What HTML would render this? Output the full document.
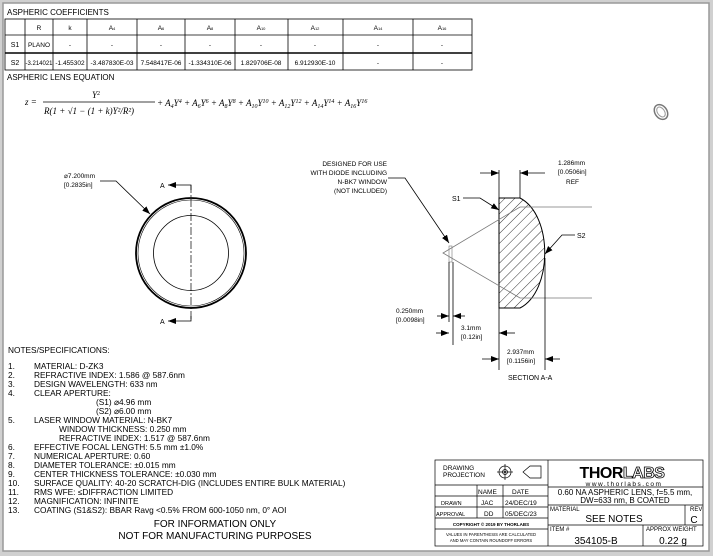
<!DOCTYPE html>
<html><head><meta charset="utf-8"><style>
html,body{margin:0;padding:0;background:#c8c8c8;}
svg{display:block;font-family:"Liberation Sans",sans-serif;}
</style></head><body>
<svg width="713" height="556" viewBox="0 0 713 556" xmlns="http://www.w3.org/2000/svg">
<defs>
<marker id="ar" markerWidth="8" markerHeight="6" refX="8" refY="3" orient="auto" markerUnits="userSpaceOnUse"><path d="M0,0 L8,3 L0,6z" fill="#000"/></marker>
<pattern id="hatch" width="7" height="7" patternUnits="userSpaceOnUse" patternTransform="rotate(45)"><line x1="0" y1="0" x2="0" y2="7" stroke="#000" stroke-width="0.8"/></pattern>
</defs>
<rect x="0" y="0" width="713" height="556" fill="#d0d0d0"/>
<rect x="3" y="3" width="706" height="548" fill="#fff" stroke="#999" stroke-width="1.5"/>

<!-- table -->
<text x="7" y="15" font-size="8">ASPHERIC COEFFICIENTS</text>
<g stroke="#000" stroke-width="0.8" fill="none">
<rect x="5" y="19" width="467" height="51"/>
<line x1="5" y1="35" x2="472" y2="35"/>
<line x1="5" y1="53" x2="472" y2="53" stroke-width="1.6"/>
<line x1="25" y1="19" x2="25" y2="70"/><line x1="53" y1="19" x2="53" y2="70"/>
<line x1="87" y1="19" x2="87" y2="70"/><line x1="137" y1="19" x2="137" y2="70"/>
<line x1="185" y1="19" x2="185" y2="70"/><line x1="235" y1="19" x2="235" y2="70"/>
<line x1="288" y1="19" x2="288" y2="70"/><line x1="343" y1="19" x2="343" y2="70"/>
<line x1="413" y1="19" x2="413" y2="70"/>
</g>
<g font-size="6.5" text-anchor="middle">
<text x="39" y="30">R</text><text x="70" y="30">k</text>
<text x="112" y="30">A<tspan font-size="4">4</tspan></text><text x="161" y="30">A<tspan font-size="4">6</tspan></text>
<text x="210" y="30">A<tspan font-size="4">8</tspan></text><text x="261" y="30">A<tspan font-size="4">10</tspan></text>
<text x="315" y="30">A<tspan font-size="4">12</tspan></text><text x="378" y="30">A<tspan font-size="4">14</tspan></text>
<text x="442" y="30">A<tspan font-size="4">16</tspan></text>
<text x="15" y="47" font-size="7">S1</text><text x="39" y="47">PLANO</text>
<text x="70" y="47">-</text><text x="112" y="47">-</text><text x="161" y="47">-</text><text x="210" y="47">-</text><text x="261" y="47">-</text><text x="315" y="47">-</text><text x="378" y="47">-</text><text x="442" y="47">-</text>
<text x="15" y="65" font-size="7">S2</text><text x="39" y="65" font-size="6">-3.214021</text><text x="70" y="65">-1.455302</text>
<text x="112" y="65">-3.487830E-03</text><text x="161" y="65">7.548417E-06</text><text x="210" y="65">-1.334310E-06</text>
<text x="261" y="65">1.829706E-08</text><text x="315" y="65">6.912930E-10</text><text x="378" y="65">-</text><text x="442" y="65">-</text>
</g>
<text x="7" y="80" font-size="8">ASPHERIC LENS EQUATION</text>
<g font-family="Liberation Serif,serif" font-style="italic" font-size="9">
<text x="25" y="105">z =</text>
<text x="92" y="98">Y<tspan font-size="6" dy="-3" font-style="normal">2</tspan></text>
<line x1="43" y1="102" x2="155" y2="102" stroke="#000" stroke-width="0.7"/>
<text x="44" y="114">R(1 + √1 − (1 + k)Y²/R²)</text>
<text x="157" y="106">+ A<tspan font-size="6" dy="2">4</tspan><tspan dy="-2">Y</tspan><tspan font-size="6" dy="-3">4</tspan><tspan dy="3"> + A</tspan><tspan font-size="6" dy="2">6</tspan><tspan dy="-2">Y</tspan><tspan font-size="6" dy="-3">6</tspan><tspan dy="3"> + A</tspan><tspan font-size="6" dy="2">8</tspan><tspan dy="-2">Y</tspan><tspan font-size="6" dy="-3">8</tspan><tspan dy="3"> + A</tspan><tspan font-size="6" dy="2">10</tspan><tspan dy="-2">Y</tspan><tspan font-size="6" dy="-3">10</tspan><tspan dy="3"> + A</tspan><tspan font-size="6" dy="2">12</tspan><tspan dy="-2">Y</tspan><tspan font-size="6" dy="-3">12</tspan><tspan dy="3"> + A</tspan><tspan font-size="6" dy="2">14</tspan><tspan dy="-2">Y</tspan><tspan font-size="6" dy="-3">14</tspan><tspan dy="3"> + A</tspan><tspan font-size="6" dy="2">16</tspan><tspan dy="-2">Y</tspan><tspan font-size="6" dy="-3">16</tspan></text>
</g>
<!-- iso icon -->
<ellipse cx="661" cy="112" rx="6" ry="8" transform="rotate(-35 661 112)" fill="none" stroke="#777" stroke-width="1.5"/>
<ellipse cx="661" cy="112" rx="3.5" ry="5.5" transform="rotate(-35 661 112)" fill="none" stroke="#999" stroke-width="1"/>

<!-- front view -->
<g fill="none" stroke="#000">
<circle cx="191" cy="253" r="55" stroke-width="1.8"/>
<circle cx="191" cy="253" r="53" stroke-width="0.6"/>
<circle cx="191" cy="253" r="37.5" stroke-width="0.8"/>
<line x1="191" y1="185" x2="191" y2="321" stroke-width="0.7" stroke-dasharray="8,2,2,2"/>
<polyline points="191,190 191,185 168,185" stroke-width="0.8" marker-end="url(#ar)"/>
<polyline points="191,316 191,321 168,321" stroke-width="0.8" marker-end="url(#ar)"/>
<polyline points="100,181 116,181 150,214" stroke-width="0.8" marker-end="url(#ar)"/>
</g>
<text x="160" y="188" font-size="7">A</text><text x="160" y="324" font-size="7">A</text>
<text x="64" y="178" font-size="6.5">⌀7.200mm</text>
<text x="64" y="187" font-size="6.5">[0.2835in]</text>

<!-- section -->
<g fill="none" stroke="#000" stroke-width="0.8">
<path d="M499,198 L520,198 C553,215 553,291 520,308 L499,308 Z" fill="url(#hatch)" stroke-width="1"/>
<polyline points="592,207 520,207 443,253 520,298 592,298" stroke="#777" stroke-width="0.8"/>
<rect x="449" y="246" width="3" height="16" stroke="#777" stroke-width="0.6"/>
<line x1="499" y1="170" x2="499" y2="198"/><line x1="520" y1="170" x2="520" y2="198"/>
<line x1="480" y1="173" x2="499" y2="173" marker-end="url(#ar)"/>
<line x1="545" y1="173" x2="520" y2="173" marker-end="url(#ar)"/>
<line x1="499" y1="308" x2="499" y2="370"/><line x1="545" y1="258" x2="545" y2="370"/>
<line x1="449" y1="262" x2="449" y2="322"/><line x1="453" y1="262" x2="453" y2="345"/>
<line x1="437" y1="316" x2="449" y2="316" marker-end="url(#ar)"/>
<line x1="465" y1="316" x2="453" y2="316" marker-end="url(#ar)"/>
<line x1="436" y1="333" x2="449" y2="333" marker-end="url(#ar)"/>
<line x1="515" y1="333" x2="499" y2="333" marker-end="url(#ar)"/>
<line x1="482" y1="359" x2="499" y2="359" marker-end="url(#ar)"/>
<line x1="560" y1="359" x2="545" y2="359" marker-end="url(#ar)"/>
<polyline points="388,178 405,178 449,243" marker-end="url(#ar)"/>
<polyline points="463,198 480,198 499,210" marker-end="url(#ar)"/>
<polyline points="575,235 562,235 545,254" marker-end="url(#ar)"/>
</g>
<g font-size="6.5" text-anchor="end">
<text x="387" y="166">DESIGNED FOR USE</text>
<text x="387" y="175">WITH DIODE INCLUDING</text>
<text x="387" y="184">N-BK7 WINDOW</text>
<text x="387" y="193">(NOT INCLUDED)</text>
</g>
<text x="452" y="201" font-size="7">S1</text>
<text x="577" y="238" font-size="7">S2</text>
<g font-size="6.5">
<text x="558" y="165">1.286mm</text>
<text x="558" y="174">[0.0506in]</text>
<text x="566" y="184">REF</text>
<text x="396" y="313">0.250mm</text>
<text x="396" y="322">[0.0098in]</text>
<text x="461" y="330">3.1mm</text>
<text x="461" y="339">[0.12in]</text>
<text x="507" y="354">2.937mm</text>
<text x="507" y="363">[0.1156in]</text>
<text x="508" y="380" font-size="7">SECTION A-A</text>
</g>

<!-- notes -->
<g font-size="8.3">
<text x="8" y="353">NOTES/SPECIFICATIONS:</text>
<text x="8" y="369">1.</text><text x="34" y="369">MATERIAL: D-ZK3</text>
<text x="8" y="378">2.</text><text x="34" y="378">REFRACTIVE INDEX: 1.586 @ 587.6nm</text>
<text x="8" y="387">3.</text><text x="34" y="387">DESIGN WAVELENGTH: 633 nm</text>
<text x="8" y="396">4.</text><text x="34" y="396">CLEAR APERTURE:</text>
<text x="96" y="405">(S1) ⌀4.96 mm</text>
<text x="96" y="414">(S2) ⌀6.00 mm</text>
<text x="8" y="423">5.</text><text x="34" y="423">LASER WINDOW MATERIAL: N-BK7</text>
<text x="59" y="432">WINDOW THICKNESS: 0.250 mm</text>
<text x="59" y="441">REFRACTIVE INDEX: 1.517 @ 587.6nm</text>
<text x="8" y="450">6.</text><text x="34" y="450">EFFECTIVE FOCAL LENGTH: 5.5 mm ±1.0%</text>
<text x="8" y="459">7.</text><text x="34" y="459">NUMERICAL APERTURE: 0.60</text>
<text x="8" y="468">8.</text><text x="34" y="468">DIAMETER TOLERANCE: ±0.015 mm</text>
<text x="8" y="477">9.</text><text x="34" y="477">CENTER THICKNESS TOLERANCE: ±0.030 mm</text>
<text x="8" y="486">10.</text><text x="34" y="486">SURFACE QUALITY: 40-20 SCRATCH-DIG (INCLUDES ENTIRE BULK MATERIAL)</text>
<text x="8" y="495">11.</text><text x="34" y="495">RMS WFE: ≤DIFFRACTION LIMITED</text>
<text x="8" y="504">12.</text><text x="34" y="504">MAGNIFICATION: INFINITE</text>
<text x="8" y="513">13.</text><text x="34" y="513">COATING (S1&amp;S2): BBAR Ravg &lt;0.5% FROM 600-1050 nm, 0° AOI</text>
</g>
<g font-size="10" text-anchor="middle">
<text x="215" y="527">FOR INFORMATION ONLY</text>
<text x="215" y="539">NOT FOR MANUFACTURING PURPOSES</text>
</g>

<!-- title block -->
<g fill="none" stroke="#000" stroke-width="0.7">
<rect x="435" y="460" width="268" height="86"/>
<line x1="548" y1="460" x2="548" y2="546"/>
<line x1="435" y1="485" x2="548" y2="485"/>
<line x1="435" y1="496" x2="548" y2="496"/>
<line x1="435" y1="507" x2="548" y2="507"/>
<line x1="435" y1="518" x2="548" y2="518"/>
<line x1="435" y1="529" x2="548" y2="529"/>
<line x1="477" y1="485" x2="477" y2="518"/>
<line x1="503" y1="485" x2="503" y2="518"/>
<line x1="548" y1="487" x2="703" y2="487"/>
<line x1="548" y1="505" x2="703" y2="505"/>
<line x1="548" y1="525" x2="703" y2="525"/>
<line x1="685" y1="505" x2="685" y2="525"/>
<line x1="643" y1="525" x2="643" y2="546"/>
<circle cx="505" cy="472" r="6"/><circle cx="505" cy="472" r="2.5"/>
<line x1="497" y1="472" x2="513" y2="472"/><line x1="505" y1="464" x2="505" y2="480"/>
<path d="M523,472 L530,466 L541,466 L541,478 L530,478 Z"/>
</g>
<circle cx="505" cy="472" r="1" fill="#000"/>
<g font-size="6.5">
<text x="443" y="470">DRAWING</text><text x="443" y="477">PROJECTION</text>
<text x="478" y="494">NAME</text><text x="512" y="494">DATE</text>
<text x="441" y="505" font-size="5.5">DRAWN</text><text x="481" y="505">JAC</text><text x="505" y="505">24/DEC/19</text>
<text x="436" y="516" font-size="5.5">APPROVAL</text><text x="484" y="516">DD</text><text x="505" y="516">05/DEC/23</text>
<text x="491" y="526" font-size="4.5" text-anchor="middle" font-weight="bold">COPYRIGHT © 2019 BY THORLABS</text>
<text x="491" y="536" font-size="4.2" text-anchor="middle">VALUES IN PARENTHESIS ARE CALCULATED</text>
<text x="491" y="542" font-size="4.2" text-anchor="middle">AND MAY CONTAIN ROUNDOFF ERRORS</text>
<text x="550" y="511" font-size="6">MATERIAL</text>
<text x="690" y="511" font-size="6">REV</text>
<text x="550" y="531" font-size="6">ITEM #</text>
<text x="646" y="531" font-size="6">APPROX WEIGHT</text>
</g>
<text x="622" y="478" font-size="16" font-weight="bold" text-anchor="middle" letter-spacing="-0.5">THOR<tspan fill="#fff" stroke="#000" stroke-width="0.8">LABS</tspan></text>
<text x="624" y="486" font-size="6.5" text-anchor="middle" letter-spacing="1.5">www.thorlabs.com</text>
<text x="625" y="495" font-size="8" text-anchor="middle">0.60 NA ASPHERIC LENS, f=5.5 mm,</text>
<text x="625" y="503" font-size="8" text-anchor="middle">DW=633 nm, B COATED</text>
<text x="614" y="522" font-size="10" text-anchor="middle">SEE NOTES</text>
<text x="694" y="523" font-size="10" text-anchor="middle">C</text>
<text x="596" y="544" font-size="10" text-anchor="middle">354105-B</text>
<text x="673" y="544" font-size="10" text-anchor="middle">0.22 g</text>
</svg>
</body></html>
